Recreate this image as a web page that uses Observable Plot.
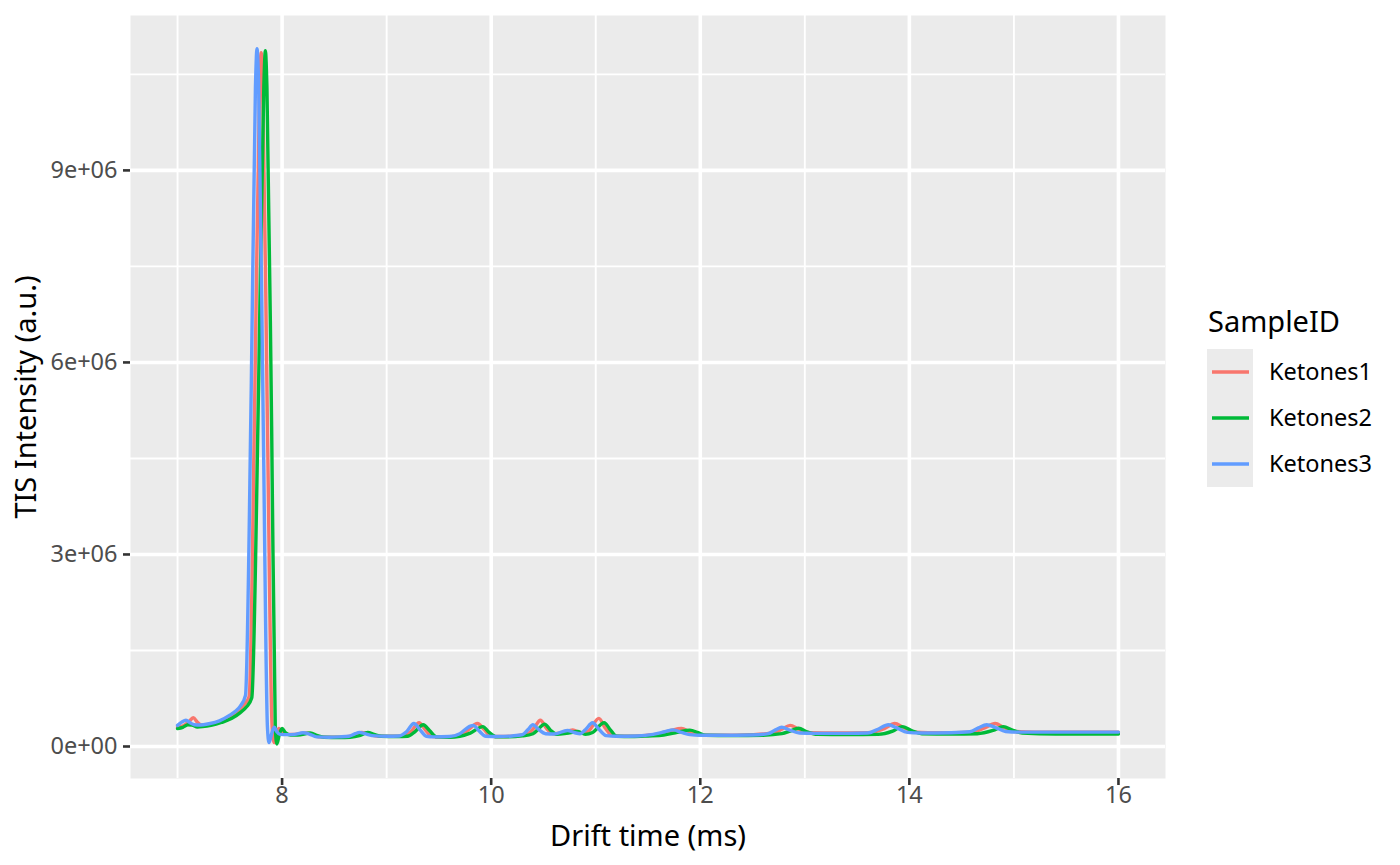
<!DOCTYPE html>
<html>
<head>
<meta charset="utf-8">
<script src="https://cdn.jsdelivr.net/npm/d3@7"></script>
<script src="https://cdn.jsdelivr.net/npm/@observablehq/plot@0.6"></script>
<style>
  html, body { margin: 0; padding: 0; background: #fff; }
  #chart { width: 1400px; height: 865px; }
</style>
</head>
<body>
<div id="chart"></div>
<script>
// ---- Data ----
const seriesNames = ["Ketones1", "Ketones2", "Ketones3"];
const seriesColors = ["#F8766D", "#00BA38", "#619CFF"];

const xMajor = [8, 10, 12, 14, 16];
const xMinor = [7, 9, 11, 13, 15];
const yMajor = [0, 3e6, 6e6, 9e6];
const yMinor = [1.5e6, 4.5e6, 7.5e6, 10.5e6];

// Ketones1 (red)
const k1Time = [7.00, 7.06, 7.11, 7.15, 7.19, 7.23, 7.30, 7.40, 7.50, 7.58, 7.64, 7.685, 7.74, 7.785, 7.80, 7.815, 7.86, 7.905, 7.925, 7.95, 7.97, 8.00, 8.05, 8.12, 8.22, 8.28, 8.35, 8.50, 8.60, 8.68, 8.76, 8.82, 8.90, 9.05, 9.15, 9.23, 9.31, 9.37, 9.43, 9.50, 9.62, 9.75, 9.87, 9.93, 10.00, 10.10, 10.25, 10.35, 10.41, 10.47, 10.53, 10.60, 10.68, 10.78, 10.86, 10.93, 11.03, 11.09, 11.16, 11.30, 11.45, 11.60, 11.72, 11.82, 11.90, 12.00, 12.20, 12.50, 12.70, 12.78, 12.86, 12.94, 13.05, 13.30, 13.60, 13.76, 13.86, 13.94, 14.05, 14.30, 14.60, 14.72, 14.82, 14.90, 15.00, 15.20, 15.60, 16.00];
const k1Int = [300e3, 330e3, 390e3, 450e3, 380e3, 335e3, 345e3, 385e3, 460e3, 560e3, 660e3, 780e3, 5600e3, 10300e3, 10840e3, 10300e3, 5000e3, 300e3, 60e3, 220e3, 280e3, 220e3, 190e3, 190e3, 210e3, 195e3, 150e3, 145e3, 150e3, 170e3, 220e3, 200e3, 165e3, 160e3, 165e3, 230e3, 370e3, 260e3, 160e3, 150e3, 155e3, 220e3, 360e3, 270e3, 160e3, 155e3, 170e3, 200e3, 290e3, 410e3, 280e3, 200e3, 215e3, 260e3, 210e3, 240e3, 440e3, 290e3, 170e3, 160e3, 170e3, 195e3, 250e3, 280e3, 230e3, 180e3, 175e3, 185e3, 210e3, 270e3, 330e3, 270e3, 215e3, 210e3, 215e3, 280e3, 360e3, 300e3, 225e3, 215e3, 225e3, 290e3, 360e3, 300e3, 235e3, 225e3, 225e3, 225e3];

// Ketones2 (green)
const k2Time = [7.00, 7.05, 7.10, 7.14, 7.19, 7.24, 7.32, 7.42, 7.52, 7.60, 7.66, 7.71, 7.775, 7.825, 7.84, 7.855, 7.90, 7.935, 7.95, 7.975, 8.00, 8.03, 8.08, 8.15, 8.27, 8.34, 8.40, 8.55, 8.65, 8.74, 8.82, 8.88, 8.95, 9.10, 9.20, 9.27, 9.35, 9.41, 9.48, 9.60, 9.70, 9.80, 9.92, 9.98, 10.05, 10.15, 10.30, 10.40, 10.45, 10.51, 10.57, 10.63, 10.72, 10.83, 10.90, 10.97, 11.08, 11.14, 11.20, 11.35, 11.50, 11.65, 11.78, 11.90, 11.98, 12.05, 12.30, 12.60, 12.78, 12.86, 12.94, 13.02, 13.12, 13.40, 13.70, 13.84, 13.93, 14.02, 14.12, 14.40, 14.65, 14.80, 14.90, 14.98, 15.08, 15.40, 16.00];
const k2Int = [280e3, 300e3, 340e3, 335e3, 305e3, 310e3, 330e3, 375e3, 440e3, 530e3, 620e3, 760e3, 5600e3, 10300e3, 10870e3, 10300e3, 5000e3, 300e3, 40e3, 200e3, 280e3, 220e3, 180e3, 180e3, 210e3, 170e3, 145e3, 140e3, 145e3, 170e3, 220e3, 190e3, 160e3, 155e3, 160e3, 230e3, 340e3, 250e3, 150e3, 145e3, 160e3, 210e3, 310e3, 220e3, 150e3, 150e3, 165e3, 200e3, 270e3, 350e3, 250e3, 190e3, 205e3, 235e3, 190e3, 220e3, 370e3, 260e3, 160e3, 155e3, 165e3, 180e3, 220e3, 255e3, 215e3, 175e3, 170e3, 175e3, 200e3, 240e3, 285e3, 230e3, 190e3, 185e3, 190e3, 240e3, 310e3, 250e3, 200e3, 195e3, 200e3, 250e3, 310e3, 260e3, 210e3, 195e3, 195e3];

// Ketones3 (blue)
const k3Time = [7.00, 7.04, 7.08, 7.12, 7.16, 7.22, 7.30, 7.40, 7.50, 7.56, 7.60, 7.65, 7.705, 7.745, 7.76, 7.775, 7.82, 7.86, 7.875, 7.90, 7.925, 7.95, 7.98, 8.05, 8.12, 8.20, 8.26, 8.33, 8.45, 8.55, 8.64, 8.70, 8.74, 8.79, 8.86, 9.00, 9.12, 9.19, 9.26, 9.32, 9.38, 9.45, 9.60, 9.70, 9.80, 9.83, 9.88, 9.95, 10.05, 10.20, 10.30, 10.35, 10.40, 10.45, 10.52, 10.60, 10.73, 10.80, 10.85, 10.90, 10.97, 11.02, 11.10, 11.20, 11.40, 11.55, 11.66, 11.74, 11.82, 11.90, 12.00, 12.20, 12.50, 12.65, 12.72, 12.78, 12.85, 12.95, 13.10, 13.40, 13.60, 13.70, 13.80, 13.88, 13.98, 14.10, 14.40, 14.58, 14.66, 14.74, 14.82, 14.92, 15.05, 15.50, 16.00];
const k3Int = [330e3, 380e3, 410e3, 370e3, 340e3, 335e3, 355e3, 400e3, 490e3, 560e3, 630e3, 800e3, 5600e3, 10300e3, 10900e3, 10400e3, 5000e3, 300e3, 60e3, 200e3, 300e3, 230e3, 190e3, 185e3, 190e3, 215e3, 195e3, 150e3, 145e3, 150e3, 160e3, 200e3, 220e3, 200e3, 170e3, 160e3, 165e3, 230e3, 360e3, 260e3, 160e3, 150e3, 155e3, 200e3, 320e3, 330e3, 250e3, 160e3, 155e3, 165e3, 185e3, 260e3, 340e3, 270e3, 200e3, 195e3, 250e3, 215e3, 200e3, 260e3, 370e3, 290e3, 170e3, 160e3, 165e3, 190e3, 230e3, 260e3, 220e3, 185e3, 175e3, 175e3, 180e3, 200e3, 260e3, 300e3, 260e3, 210e3, 205e3, 205e3, 210e3, 270e3, 340e3, 290e3, 220e3, 210e3, 215e3, 230e3, 290e3, 340e3, 300e3, 235e3, 225e3, 225e3, 225e3];

const seriesTimes = [k1Time, k2Time, k3Time];
const seriesInts = [k1Int, k2Int, k3Int];

// ggplot-style scientific labels, e.g. 9e+06
function sci(d) {
  if (d === 0) return "0e+00";
  const e = Math.floor(Math.log10(Math.abs(d)));
  const m = Math.round(d / Math.pow(10, e));
  return `${m}e${e < 0 ? "-" : "+"}${String(Math.abs(e)).padStart(2, "0")}`;
}

const font = "'Noto Sans', 'Open Sans', sans-serif";
const gridColor = "#FFFFFF";

const lineMarks = seriesNames.map((name, i) =>
  Plot.line(seriesInts[i], {
    x: seriesTimes[i],
    y: seriesInts[i],
    stroke: seriesColors[i],
    strokeWidth: 3.4,
    curve: "monotone-x"
  })
);

const chart = Plot.plot({
  width: 1400,
  height: 865,
  marginLeft: 130,
  marginRight: 235,
  marginTop: 15,
  marginBottom: 87,
  style: { fontFamily: font, background: "#FFFFFF", color: "#000" },
  x: { domain: [6.55, 16.45] },
  y: { domain: [-0.5e6, 11.42e6] },
  marks: [
    Plot.frame({ fill: "#EBEBEB", stroke: "none" }),
    Plot.ruleX(xMinor, { stroke: gridColor, strokeWidth: 1.9 }),
    Plot.ruleY(yMinor, { stroke: gridColor, strokeWidth: 1.9 }),
    Plot.ruleX(xMajor, { stroke: gridColor, strokeWidth: 3.6 }),
    Plot.ruleY(yMajor, { stroke: gridColor, strokeWidth: 3.6 }),
    ...lineMarks,
    Plot.axisX(xMajor, {
      tickSize: 7, tickPadding: 1, stroke: "#333333", strokeWidth: 2.6,
      fill: "#4D4D4D", fontSize: 23.5, label: null, tickFormat: d => String(d)
    }),
    Plot.axisY(yMajor, {
      tickSize: 7, tickPadding: 6, stroke: "#333333", strokeWidth: 2.6,
      fill: "#4D4D4D", fontSize: 23.5, label: null, tickFormat: sci
    }),
    Plot.text(["Drift time (ms)"], {
      frameAnchor: "bottom", lineAnchor: "middle", textAnchor: "middle",
      dy: 58, fontSize: 29, fill: "#000"
    }),
    Plot.text(["TIS Intensity (a.u.)"], {
      frameAnchor: "left", lineAnchor: "middle", textAnchor: "middle",
      dx: -104, rotate: -90, fontSize: 29, fill: "#000"
    })
  ]
});

// Legend (drawn into the same SVG)
const svg = d3.select(chart);
const lg = svg.append("g")
  .attr("font-family", font)
  .attr("text-anchor", "start");
lg.append("text")
  .attr("x", 1208).attr("y", 332)
  .attr("text-anchor", "start")
  .attr("font-size", 29).attr("fill", "#000")
  .text("SampleID");
const keyX = 1207, keyY = 349, keySize = 46;
seriesNames.forEach((name, i) => {
  const y0 = keyY + i * keySize;
  lg.append("rect")
    .attr("x", keyX).attr("y", y0)
    .attr("width", keySize).attr("height", keySize)
    .attr("fill", "#EBEBEB");
  lg.append("line")
    .attr("x1", keyX + 5).attr("x2", keyX + keySize - 4)
    .attr("y1", y0 + keySize / 2).attr("y2", y0 + keySize / 2)
    .attr("stroke", seriesColors[i]).attr("stroke-width", 3.4);
  lg.append("text")
    .attr("x", 1269).attr("y", y0 + keySize / 2)
    .attr("dy", "0.35em")
    .attr("text-anchor", "start")
    .attr("font-size", 23.5).attr("fill", "#000")
    .text(name);
});

document.getElementById("chart").appendChild(chart);
</script>
</body>
</html>
